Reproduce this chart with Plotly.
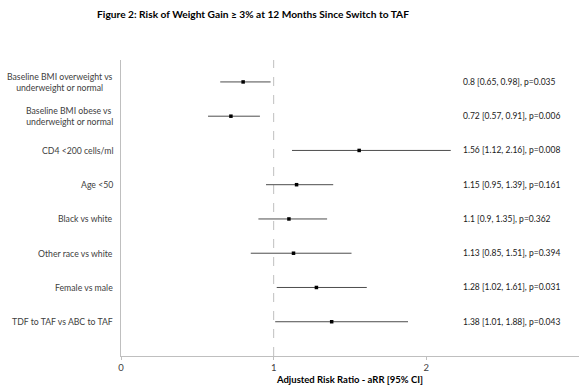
import plotly.graph_objects as go

labels = ["Baseline BMI overweight vs<br>underweight or normal",
          "Baseline BMI obese vs <br>underweight or normal",
          "CD4 <200 cells/ml",
          "Age <50",
          "Black vs white",
          "Other race vs white",
          "Female vs male",
          "TDF to TAF vs ABC to TAF"]
arr = [0.8, 0.72, 1.56, 1.15, 1.1, 1.13, 1.28, 1.38]
lo = [0.65, 0.57, 1.12, 0.95, 0.9, 0.85, 1.02, 1.01]
hi = [0.98, 0.91, 2.16, 1.39, 1.35, 1.51, 1.61, 1.88]
pvals = ["0.035", "0.006", "0.008", "0.161", "0.362", "0.394", "0.031", "0.043"]

pos = list(range(1, len(labels) + 1))
FONT = "Lato, 'Open Sans', sans-serif"

fig = go.Figure()
fig.add_trace(go.Scatter(
    x=arr, y=pos, mode="markers",
    marker=dict(symbol="square", size=3.5, color="black"),
    error_x=dict(type="data", symmetric=False,
                 array=[h - a for h, a in zip(hi, arr)],
                 arrayminus=[a - l for a, l in zip(arr, lo)],
                 color="#4d4d4d", thickness=1, width=0),
    showlegend=False, hoverinfo="skip"))

fig.add_shape(type="line", x0=1, x1=1, y0=0, y1=1, yref="paper",
              line=dict(color="#bfbfbf", width=1, dash="dash"), layer="below")

# category labels (centred multi-line, right edge next to axis)
for p, lab in zip(pos, labels):
    fig.add_annotation(x=0, xref="paper", y=p, yref="y", xanchor="right",
                       yanchor="middle", xshift=-6, align="center",
                       text=lab, showarrow=False,
                       font=dict(size=8.7, color="#404040", family=FONT))

for p, a, l, h, pv in zip(pos, arr, lo, hi, pvals):
    fig.add_annotation(x=2.23, y=p, xanchor="left", yanchor="middle",
                       text=f"{a:g} [{l:g}, {h:g}], p={pv}", showarrow=False,
                       font=dict(size=8.5, color="#1a1a1a", family=FONT))

fig.update_layout(
    width=579, height=385,
    margin=dict(l=121, r=0, t=60, b=29),
    plot_bgcolor="white", paper_bgcolor="white",
    font=dict(family=FONT, size=9.5, color="#000000"),
    title=dict(text="<b>Figure 2: Risk of Weight Gain ≥ 3% at 12 Months Since Switch to TAF</b>",
               x=0.437, xanchor="center", y=0.962, yanchor="middle",
               font=dict(size=10.2, family=FONT, color="#000000")),
    xaxis=dict(range=[0, 3], tickvals=[0, 1, 2, 3], showgrid=False, zeroline=False,
               showline=True, linecolor="#bfbfbf", linewidth=1,
               ticks="outside", ticklen=3, tickcolor="#bfbfbf",
               tickfont=dict(size=9.5, color="#404040"),
               title=dict(text="<b>Adjusted Risk Ratio - aRR [95% CI]</b>", standoff=5,
                          font=dict(size=9.5, color="#000000"))),
    yaxis=dict(range=[9.0, 0.36], tickvals=pos, showticklabels=False, showgrid=False,
               zeroline=False, showline=True, linecolor="#bfbfbf", linewidth=1,
               ticks=""),
)

fig.write_html("out.html", config={"displayModeBar": False},
               post_script="document.body.style.margin='0';document.body.style.overflow='hidden';")
